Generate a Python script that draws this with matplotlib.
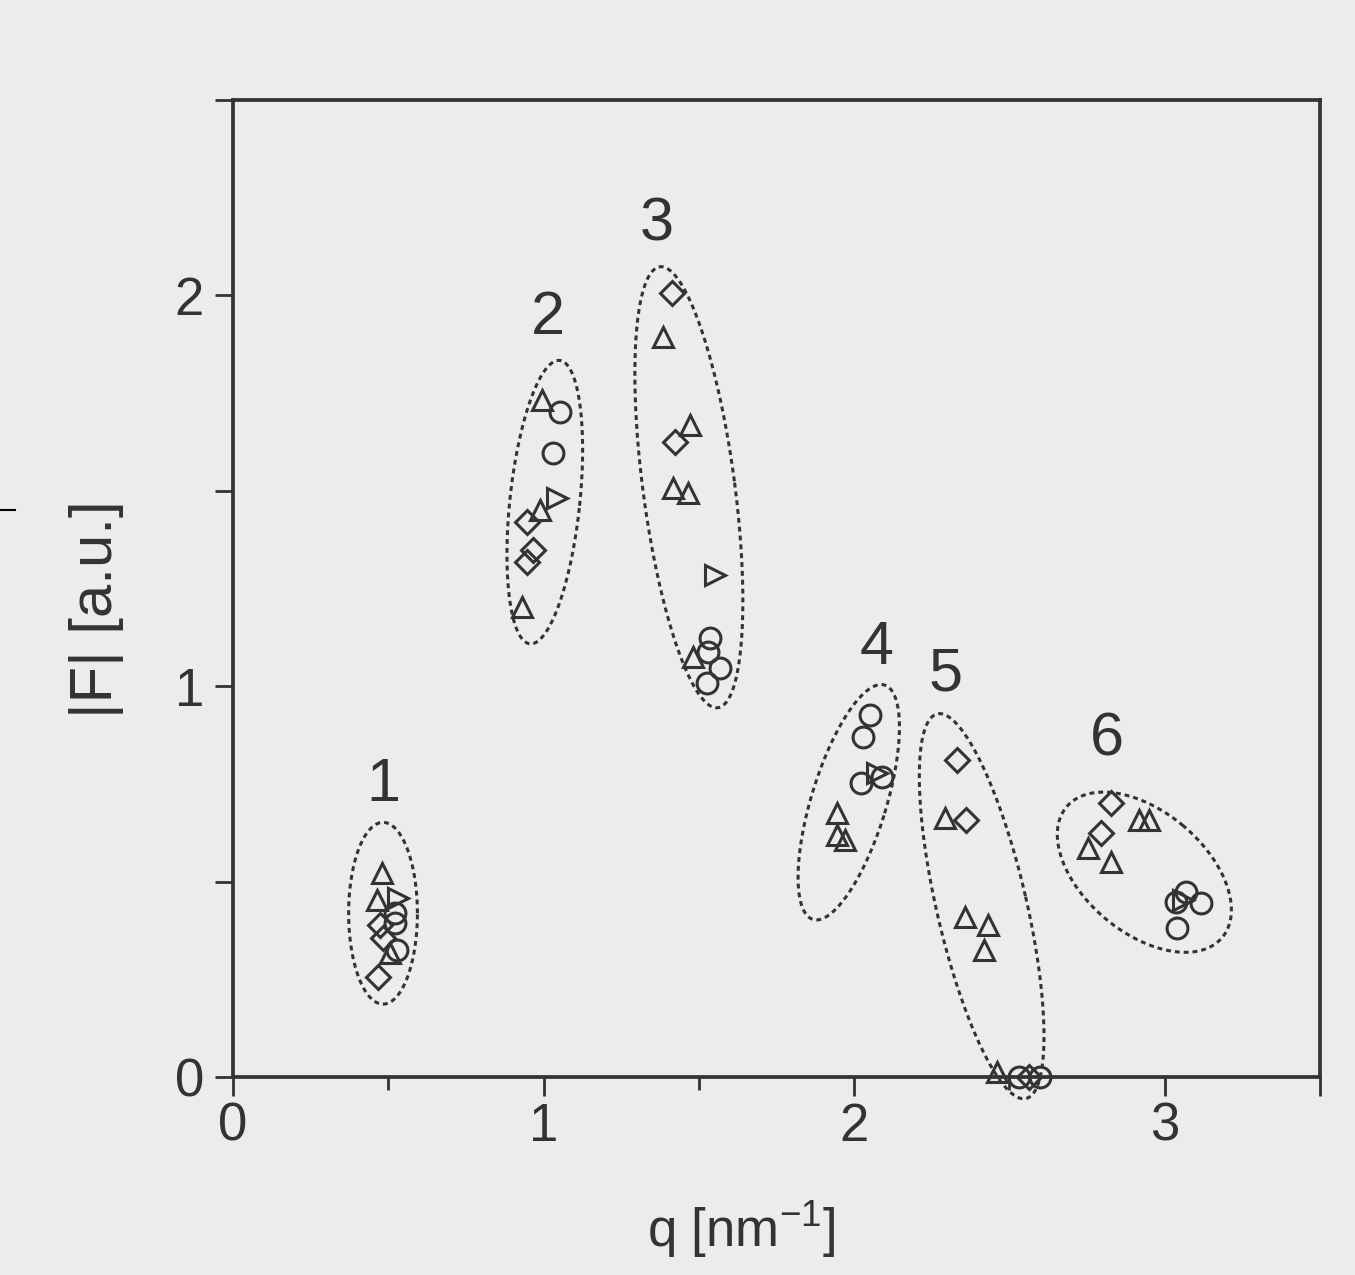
"""Scattering amplitude |F| versus q, six reflection clusters circled."""

import numpy as np
import matplotlib
matplotlib.use("Agg")
import matplotlib.pyplot as plt
from matplotlib.lines import Line2D

plt.rcParams['font.family'] = ['Liberation Sans', 'DejaVu Sans']
plt.rcParams['mathtext.fontset'] = 'custom'
plt.rcParams['mathtext.rm'] = 'Liberation Sans'

INK = '#333333'
PAPER = '#ececec'

# open circles
circle_q = [0.52, 0.52, 0.527, 1.052, 1.03, 1.535, 1.529, 1.567, 1.526,
            2.05, 2.028, 2.024, 2.089, 2.53, 2.60, 3.038, 3.07, 3.119, 3.041]
circle_f = [0.42, 0.394, 0.325, 1.701, 1.596, 1.123, 1.087, 1.046, 1.008,
            0.926, 0.87, 0.752, 0.767, 0.0, 0.0, 0.448, 0.473, 0.445, 0.381]

# triangles pointing up
tri_q = [0.479, 0.463, 0.505, 0.994, 0.988, 0.93, 1.384, 1.471, 1.416, 1.464,
         1.48, 1.944, 1.944, 1.97, 2.292, 2.356, 2.43, 2.42, 2.462,
         2.919, 2.951, 2.752, 2.829]
tri_f = [0.522, 0.453, 0.317, 1.731, 1.45, 1.202, 1.893, 1.668, 1.506, 1.494,
         1.074, 0.675, 0.619, 0.606, 0.662, 0.409, 0.389, 0.325, 0.013,
         0.657, 0.657, 0.586, 0.55]

# triangles pointing right
right_q = [0.53, 1.042, 1.551, 2.073, 3.058]
right_f = [0.458, 1.481, 1.284, 0.777, 0.453]

# diamonds
diamond_q = [0.473, 0.483, 0.468, 0.946, 0.966, 0.946, 1.413, 1.423,
             2.333, 2.362, 2.565, 2.829, 2.797]
diamond_f = [0.389, 0.355, 0.256, 1.419, 1.348, 1.317, 2.005, 1.624,
             0.811, 0.657, 0.0, 0.70, 0.624]

# cluster outlines: centre q, centre |F|, long axis, short axis (in |F| units),
# tilt of the long axis from vertical in degrees (positive leans right)
ring_q = [0.483, 1.004, 1.468, 1.983, 2.411, 2.935]
ring_f = [0.419, 1.471, 1.509, 0.703, 0.437, 0.524]
ring_long = [0.465, 0.729, 1.138, 0.627, 1.01, 0.52]
ring_short = [0.176, 0.179, 0.235, 0.192, 0.23, 0.31]
ring_tilt = [0, 6, -7.5, 17, -13, -50]

# cluster numbers
label_text = ['1', '2', '3', '4', '5', '6']
label_q = [0.483, 1.014, 1.365, 2.073, 2.295, 2.813]
label_f = [0.747, 1.941, 2.179, 1.097, 1.028, 0.862]

fig = plt.figure(figsize=(13.55, 12.75), dpi=100, facecolor=PAPER)
ax = fig.add_axes([0.172, 0.1553, 0.802, 0.7663], facecolor=PAPER)
ax.set_xlim(0, 3.5)
ax.set_ylim(0, 2.5)

marker_style = dict(linestyle='none', markerfacecolor='none',
                    markeredgecolor=INK, markeredgewidth=2.2, markersize=15,
                    clip_on=False, zorder=3)
ax.plot(circle_q, circle_f, marker='o', **marker_style)
ax.plot(tri_q, tri_f, marker='^', **marker_style)
ax.plot(right_q, right_f, marker='>', **marker_style)
ax.plot(diamond_q, diamond_f, marker='D', **dict(marker_style, markersize=12))

# ellipses are described in screen-like units, so convert the q stretch
box = ax.get_position()
px_per_q = box.width * 13.55 / 3.5
px_per_f = box.height * 12.75 / 2.5
ratio = px_per_f / px_per_q

t = np.linspace(0, 2 * np.pi, 300)
for cq, cf, a, b, tilt in zip(ring_q, ring_f, ring_long, ring_short, ring_tilt):
    th = np.radians(tilt)
    u = b / 2 * np.cos(t)
    v = a / 2 * np.sin(t)
    uu = u * np.cos(th) + v * np.sin(th)
    vv = -u * np.sin(th) + v * np.cos(th)
    ax.plot(cq + uu * ratio, cf + vv, color=INK, lw=2.2,
            linestyle=(0, (1.6, 1.3)), clip_on=False, zorder=2)

for txt, q, f in zip(label_text, label_q, label_f):
    ax.text(q, f, txt, fontsize=44, ha='center', va='center', color=INK)

for side in ['left', 'bottom', 'top', 'right']:
    ax.spines[side].set_linewidth(2.7)
    ax.spines[side].set_color(INK)

ax.set_xticks([0, 1, 2, 3, 3.5])
ax.set_xticklabels(['0', '1', '2', '3', ''])
ax.set_xticks([0.5, 1.5, 2.5], minor=True)
ax.set_yticks([0, 1, 2, 2.5])
ax.set_yticklabels(['0', '1', '2', ''])
ax.set_yticks([0.5, 1.5], minor=True)
ax.tick_params(axis='both', which='both', direction='out', color=INK,
               width=2.0, labelsize=38, labelcolor=INK)
ax.tick_params(axis='x', which='major', length=14, pad=4)
ax.tick_params(axis='x', which='minor', length=9)
ax.tick_params(axis='y', which='both', length=13, pad=8)

ax.set_xlabel(r'q [nm$^{\mathrm{-1}}$]', fontsize=38, color=INK)
ax.xaxis.set_label_coords(0.468, -0.124)
ax.set_ylabel('|F| [a.u.]', fontsize=43, color=INK)
ax.yaxis.set_label_coords(-0.1, 0.479)

# stray scan mark on the left margin
fig.add_artist(Line2D([0.0, 0.011], [0.6, 0.6], color='black', lw=1.5))

fig.savefig('out.png', dpi=100, facecolor=PAPER)
